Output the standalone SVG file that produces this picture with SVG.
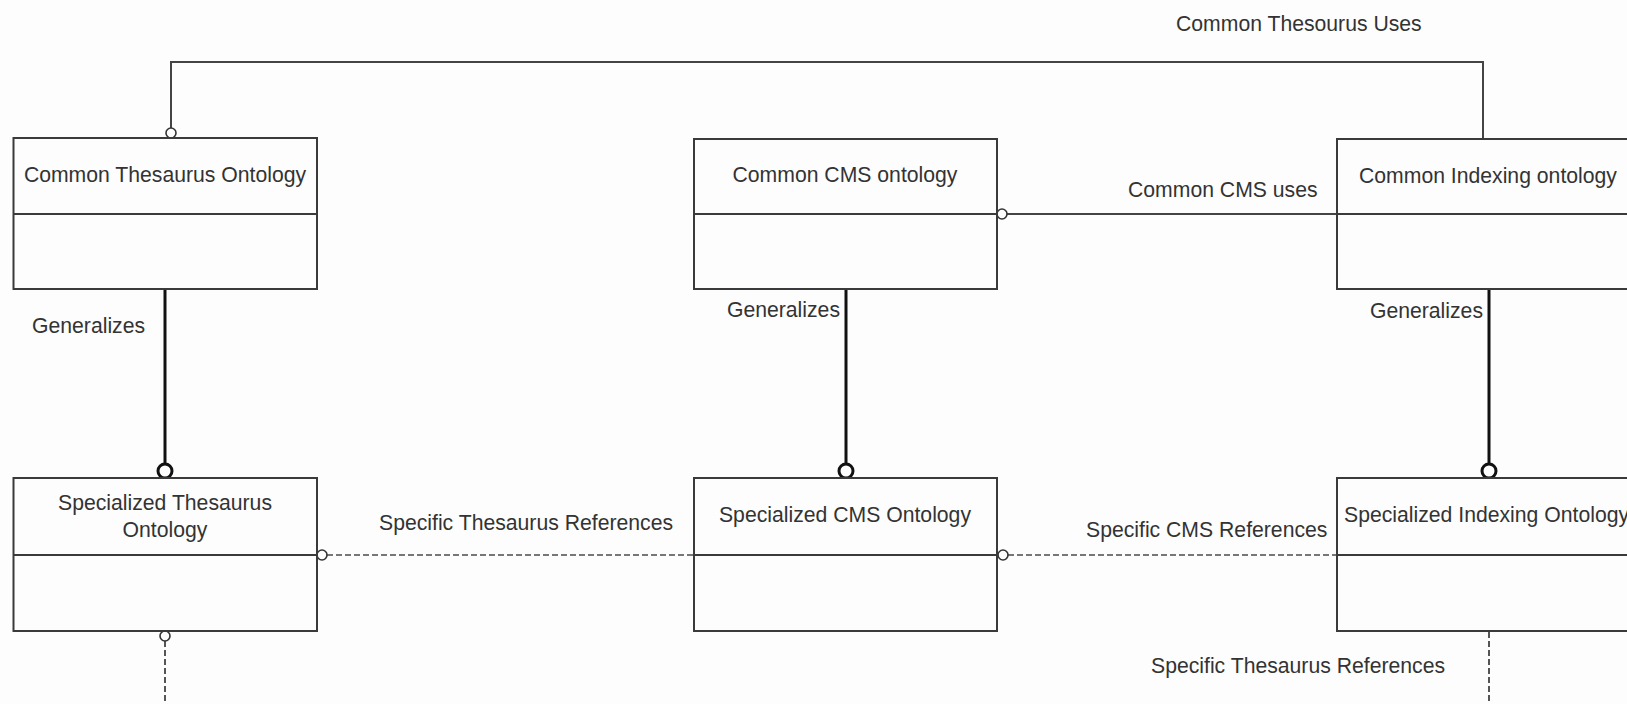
<svg xmlns="http://www.w3.org/2000/svg" width="1627" height="704" viewBox="0 0 1627 704">
  <style>
    text { font-family: "Liberation Sans", Arial, sans-serif; font-size: 21.2px; fill: #333; }
    .box { fill: #fdfdfd; stroke: #3a3a3a; stroke-width: 2; }
    .div { stroke: #3a3a3a; stroke-width: 2; }
    .solid { fill: none; stroke: #444; stroke-width: 2; }
    .gen { fill: none; stroke: #111; stroke-width: 3; }
    .dash { fill: none; stroke: #777; stroke-width: 2; stroke-dasharray: 6 3; }
    .vdash { fill: none; stroke: #555; stroke-width: 2; stroke-dasharray: 6 3; }
    .sc { fill: #fdfdfd; stroke: #333; stroke-width: 1.6; }
    .bc { fill: #fdfdfd; stroke: #111; stroke-width: 3; }
  </style>
  <rect x="0" y="0" width="1627" height="704" fill="#fdfdfd"/>

  <g id="connectors">
    <!-- Common Thesourus Uses -->
    <path class="solid" d="M171,128 V62 H1483 V139"/>
    <circle class="sc" cx="171" cy="133" r="5"/>
    <text x="1176" y="31">Common Thesourus Uses</text>
    <!-- Common CMS uses -->
    <path class="solid" d="M1007,214 H1337"/>
    <circle class="sc" cx="1002" cy="214" r="5"/>
    <text x="1128" y="197">Common CMS uses</text>
    <!-- Generalizes -->
    <path class="gen" d="M165,289 V464"/>
    <circle class="bc" cx="165" cy="471" r="7"/>
    <text x="32" y="333">Generalizes</text>
    <path class="gen" d="M846,289 V464"/>
    <circle class="bc" cx="846" cy="471" r="7"/>
    <text x="840" y="317" text-anchor="end">Generalizes</text>
    <path class="gen" d="M1489,289 V464"/>
    <circle class="bc" cx="1489" cy="471" r="7"/>
    <text x="1483" y="318" text-anchor="end">Generalizes</text>
    <!-- Specific references -->
    <path class="dash" d="M327,555 H694"/>
    <circle class="sc" cx="322" cy="555" r="5"/>
    <text x="379" y="530">Specific Thesaurus References</text>
    <path class="dash" d="M1008,555 H1337"/>
    <circle class="sc" cx="1003" cy="555" r="5"/>
    <text x="1086" y="537">Specific CMS References</text>
    <path class="vdash" d="M165,641 V704"/>
    <circle class="sc" cx="165" cy="636" r="5"/>
    <path class="vdash" d="M1489,632 V704"/>
    <text x="1151" y="673">Specific Thesaurus References</text>
  </g>

  <g id="common-thesaurus-ontology">
    <rect class="box" x="13.5" y="138" width="303.5" height="151"/>
    <line class="div" x1="13.5" y1="214" x2="317" y2="214"/>
    <text x="165" y="182" text-anchor="middle">Common Thesaurus Ontology</text>
  </g>
  <g id="common-cms-ontology">
    <rect class="box" x="694" y="139" width="303" height="150"/>
    <line class="div" x1="694" y1="214" x2="997" y2="214"/>
    <text x="845" y="182" text-anchor="middle">Common CMS ontology</text>
  </g>
  <g id="common-indexing-ontology">
    <rect class="box" x="1337" y="139" width="320" height="150"/>
    <line class="div" x1="1337" y1="214" x2="1657" y2="214"/>
    <text x="1359" y="183">Common Indexing ontology</text>
  </g>
  <g id="specialized-thesaurus-ontology">
    <rect class="box" x="13.5" y="478" width="303.5" height="153"/>
    <line class="div" x1="13.5" y1="555" x2="317" y2="555"/>
    <text x="165" y="510" text-anchor="middle">Specialized Thesaurus</text>
    <text x="165" y="537" text-anchor="middle">Ontology</text>
  </g>
  <g id="specialized-cms-ontology">
    <rect class="box" x="694" y="478" width="303" height="153"/>
    <line class="div" x1="694" y1="555" x2="997" y2="555"/>
    <text x="845" y="522" text-anchor="middle">Specialized CMS Ontology</text>
  </g>
  <g id="specialized-indexing-ontology">
    <rect class="box" x="1337" y="478" width="320" height="153"/>
    <line class="div" x1="1337" y1="555" x2="1657" y2="555"/>
    <text x="1344" y="522">Specialized Indexing Ontology</text>
  </g>
</svg>
